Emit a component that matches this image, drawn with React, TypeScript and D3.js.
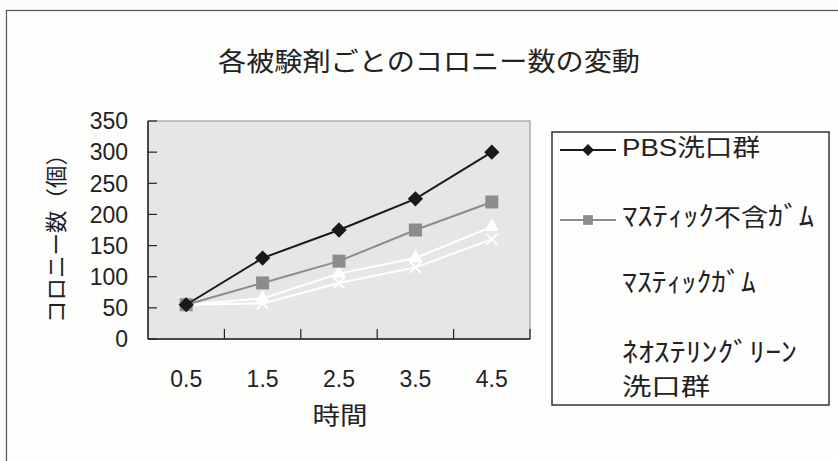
import React from 'react';
import * as d3 from 'd3';

const times = ['0.5', '1.5', '2.5', '3.5', '4.5'];
const pbs = [55, 130, 175, 225, 300];
const masticFree = [55, 90, 125, 175, 220];
const mastic = [55, 65, 105, 130, 180];
const neoSterling = [55, 57, 90, 115, 160];
const yTicks = [0, 50, 100, 150, 200, 250, 300, 350];
const seriesNames = ['PBS洗口群', 'ﾏｽﾃｨｯｸ不含ｶﾞﾑ', 'ﾏｽﾃｨｯｸｶﾞﾑ', 'ﾈｵｽﾃﾘﾝｸﾞﾘｰﾝ\n洗口群'];

const FONT = '"Liberation Sans", "Noto Sans CJK JP", sans-serif';

// half-width kana in Noto look small, so they get a bigger size than the kanji
const KanaText: React.FC<{ x: number; y: number; text: string; len: number }> = ({ x, y, text, len }) => {
  const parts: { s: string; kana: boolean }[] = [];
  for (const ch of text) {
    const kana = /[\uFF61-\uFF9F]/.test(ch);
    const last = parts[parts.length - 1];
    if (last && last.kana === kana) last.s += ch;
    else parts.push({ s: ch, kana });
  }
  return (
    <text x={x} y={y} dy="0.36em" fill="#222" textLength={len} lengthAdjust="spacingAndGlyphs">
      {parts.map((p, i) => (
        <tspan key={i} fontSize={p.kana ? 27 : 24}>
          {p.s}
        </tspan>
      ))}
    </text>
  );
};

const App: React.FC = () => {
  const width = 838;
  const height = 461;
  const plot = { left: 148, right: 530, top: 121, bottom: 339 };

  const x = d3.scaleBand().domain(times).range([plot.left, plot.right]).padding(0);
  const y = d3.scaleLinear().domain([0, 350]).range([plot.bottom, plot.top]);
  const cx = (t: string) => x(t)! + x.bandwidth() / 2;

  const series = [
    { name: seriesNames[0], values: pbs, color: '#1a1a1a', marker: 'diamond' },
    { name: seriesNames[1], values: masticFree, color: '#8c8c8c', marker: 'square' },
    { name: seriesNames[2], values: mastic, color: '#ffffff', marker: 'triangle' },
    { name: seriesNames[3], values: neoSterling, color: '#ffffff', marker: 'x' },
  ];

  const line = d3
    .line<number>()
    .x((_, i) => cx(times[i]))
    .y(d => y(d));

  const marker = (type: string, px: number, py: number, color: string, key: string, k = 1) => {
    if (type === 'diamond') {
      const s = d3.symbol(d3.symbolDiamond2, 110 * k * k)();
      return <path key={key} d={s!} transform={`translate(${px},${py})`} fill={color} stroke={color} strokeWidth={1.5} />;
    }
    if (type === 'square') {
      const h = 6.5 * k;
      return <rect key={key} x={px - h} y={py - h} width={2 * h} height={2 * h} fill={color} />;
    }
    if (type === 'triangle') {
      const s = d3.symbol(d3.symbolTriangle, 90 * k * k)();
      return <path key={key} d={s!} transform={`translate(${px},${py})`} fill={color} />;
    }
    const s = d3.symbol(d3.symbolX, 80 * k * k)();
    return <path key={key} d={s!} transform={`translate(${px},${py})`} fill="none" stroke={color} strokeWidth={2} />;
  };

  const legendY = [150, 220, 286, 356];
  // measured line lengths in the legend
  const legendLen = [[138], [192], [134], [175, 88]];

  return (
    <svg
      width={width}
      height={height}
      style={{ position: 'absolute', left: 0, top: 0, display: 'block', background: '#fbfbfa' }}
      fontFamily={FONT}
    >
      <rect x={6.5} y={10.5} width={width + 10} height={height + 10} fill="#fdfdfc" stroke="#555" strokeWidth={1.2} />

      <text x={429} y={62} dy="0.36em" textAnchor="middle" fontSize={26} fill="#222" textLength={422} lengthAdjust="spacingAndGlyphs">
        各被験剤ごとのコロニー数の変動
      </text>

      {/* plot area */}
      <rect x={plot.left} y={plot.top} width={plot.right - plot.left} height={plot.bottom - plot.top} fill="#e6e6e6" stroke="#8a8a8a" strokeWidth={1} />

      {/* y axis */}
      <line x1={plot.left} x2={plot.left} y1={plot.top} y2={plot.bottom} stroke="#222" strokeWidth={1.5} />
      {yTicks.map(t => (
        <g key={t}>
          <line x1={plot.left} x2={plot.left + 9} y1={y(t)} y2={y(t)} stroke="#222" strokeWidth={1.2} />
          <text x={128} y={y(t)} dy="0.36em" textAnchor="end" fontSize={23} fill="#222">
            {t}
          </text>
        </g>
      ))}

      {/* x axis */}
      <line x1={plot.left} x2={plot.right} y1={plot.bottom} y2={plot.bottom} stroke="#222" strokeWidth={1.5} />
      {times.map((t, i) => (
        <g key={t}>
          {i > 0 && <line x1={x(t)!} x2={x(t)!} y1={plot.bottom} y2={plot.bottom - 10} stroke="#222" strokeWidth={1.2} />}
          <text x={cx(t)} y={379} dy="0.36em" textAnchor="middle" fontSize={23} fill="#222">
            {t}
          </text>
        </g>
      ))}
      <line x1={plot.right} x2={plot.right} y1={plot.bottom} y2={plot.bottom - 10} stroke="#222" strokeWidth={1.2} />

      <text x={340} y={415} dy="0.36em" textAnchor="middle" fontSize={24} fill="#222" textLength={55} lengthAdjust="spacingAndGlyphs">
        時間
      </text>
      <text
        transform={`translate(56,233) rotate(-90)`}
        dy="0.36em"
        textAnchor="middle"
        fontSize={22}
        fill="#222"
        textLength={180}
        lengthAdjust="spacingAndGlyphs"
      >
        コロニー数（個）
      </text>

      {/* series */}
      {[...series].reverse().map(s => (
        <g key={s.name}>
          <path d={line(s.values)!} fill="none" stroke={s.color} strokeWidth={2} />
          {s.values.map((v, i) => marker(s.marker, cx(times[i]), y(v), s.color, `${s.name}-${i}`))}
        </g>
      ))}

      {/* legend */}
      <rect x={552} y={132} width={277} height={273} fill="#fdfdfc" stroke="#333" strokeWidth={1.5} />
      {series.map((s, i) => (
        <g key={s.name}>
          <line x1={560} x2={616} y1={legendY[i]} y2={legendY[i]} stroke={s.color} strokeWidth={2} />
          {marker(s.marker, 588, legendY[i], s.color, `leg-${i}`, 0.75)}
          {s.name.split('\n').map((ln, j) => (
            <KanaText key={j} x={622} y={legendY[i] + j * 33} text={ln} len={legendLen[i][j]} />
          ))}
        </g>
      ))}
    </svg>
  );
};

export default App;
